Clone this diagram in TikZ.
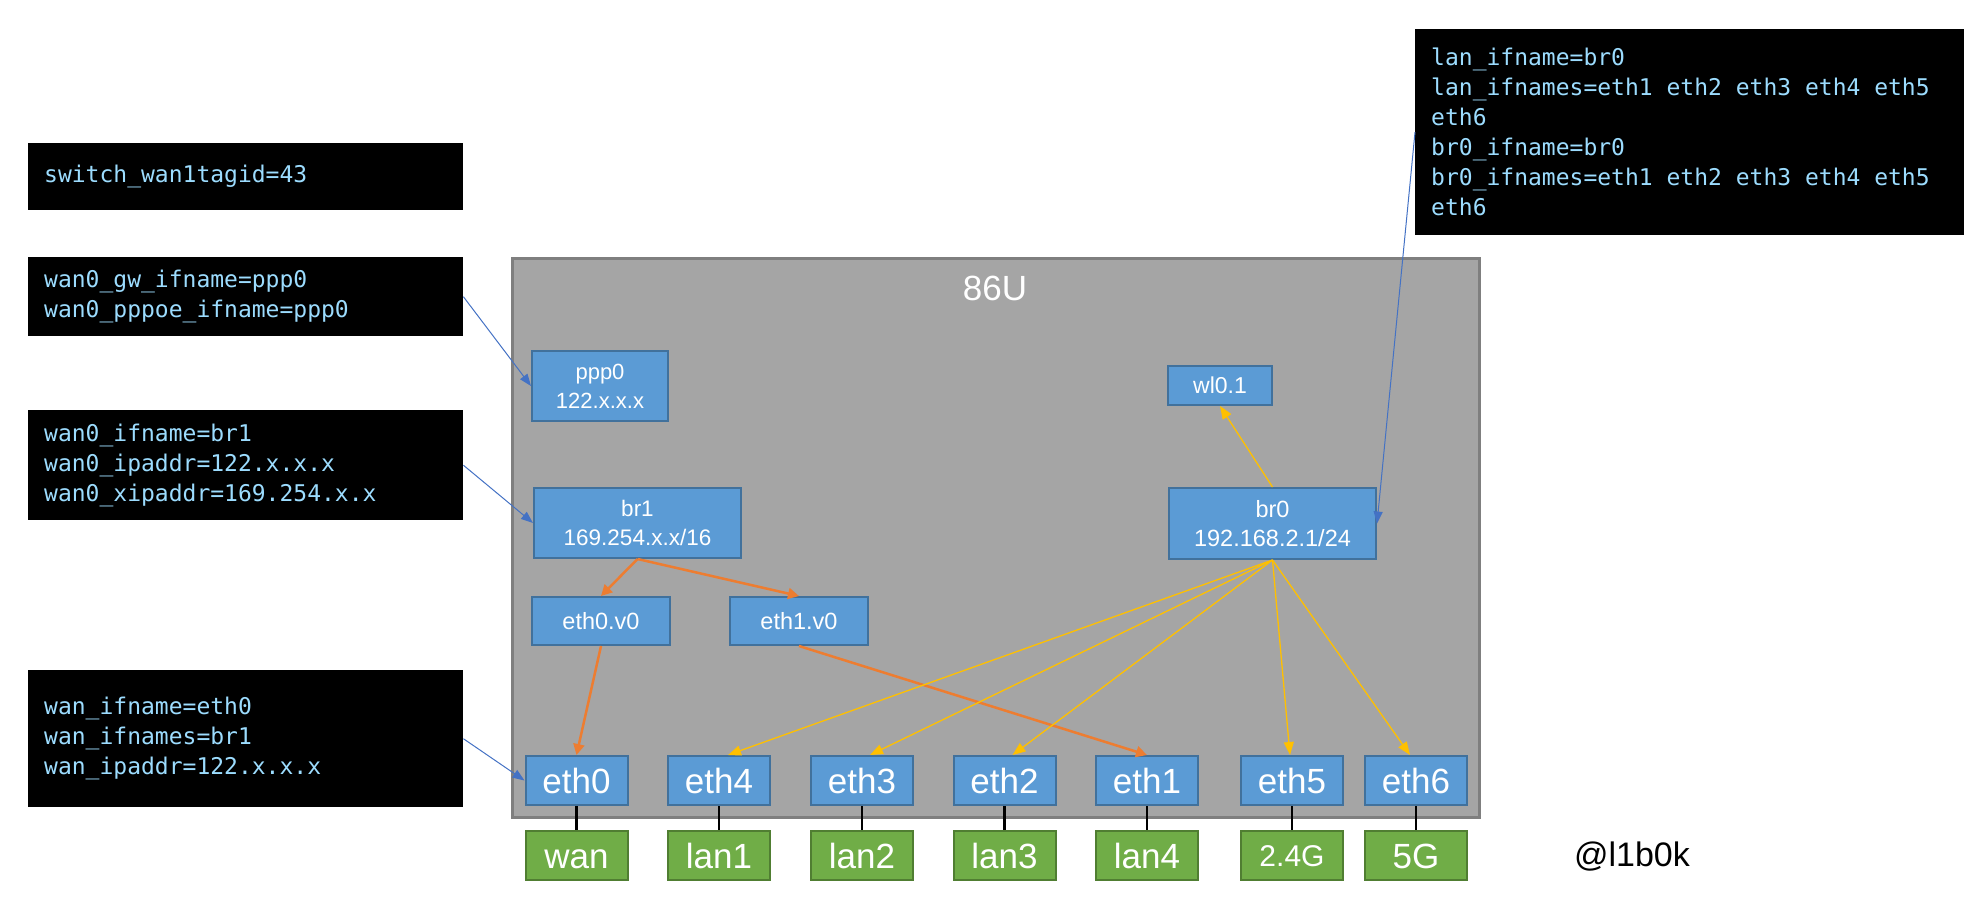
\documentclass[tikz,border=0pt]{standalone}
\usepackage{fontspec}
\setmainfont{Liberation Sans}
\setmonofont[WordSpace={1,0,0}]{DejaVu Sans Mono}
\usetikzlibrary{arrows.meta}
\definecolor{grayfill}{HTML}{A5A5A5}
\definecolor{grayline}{HTML}{7F7F7F}
\definecolor{bluefill}{HTML}{5B9BD5}
\definecolor{blueline}{HTML}{41719C}
\definecolor{greenfill}{HTML}{70AD47}
\definecolor{greenline}{HTML}{507E32}
\definecolor{codetext}{HTML}{9CDCFE}
\definecolor{orangeln}{HTML}{ED7D31}
\definecolor{goldln}{HTML}{FFC000}
\definecolor{linkblue}{HTML}{4472C4}
\newcommand\msp{\hspace*{13.85pt}}
\begin{document}
\begin{tikzpicture}[x=1pt,y=-1pt,
  codebox/.style={fill=black, text=codetext, anchor=north west, inner xsep=16pt, inner ysep=0pt,
    align=left, font=\ttfamily\fontsize{23}{30}\selectfont},
  bluebox/.style={fill=bluefill, draw=blueline, line width=2pt, text=white, align=center,
    inner sep=0pt, font=\fontsize{22.5}{28.5}\selectfont},
  ethbox/.style={bluebox, minimum width=102pt, minimum height=49pt, text height=25.5pt, text depth=0pt,
    font=\fontsize{35}{40}\selectfont},
  greenbox/.style={fill=greenfill, draw=greenline, line width=2pt, text=white, inner sep=0pt,
    minimum width=102pt, minimum height=49pt, text height=25.5pt, text depth=0pt,
    font=\fontsize{35}{40}\selectfont},
  linkarrow/.style={draw=linkblue, line width=1pt, -{Triangle[length=12pt,width=9pt]}},
  orangearrow/.style={draw=orangeln, line width=2.5pt, -{Triangle[length=11pt,width=11pt]}},
  goldarrow/.style={draw=goldln, line width=1.3pt, -{Triangle[length=13pt,width=10pt]}},
  wire/.style={draw=black, line width=2.5pt}]
\useasboundingbox (0,0) rectangle (1976,911);

% code boxes
\node[codebox, text width=403pt, minimum height=67pt] (sw) at (28,143) {switch\_wan1tagid=43};
\node[codebox, text width=403pt, minimum height=79pt] (gw) at (28,257) {wan0\_gw\_ifname=ppp0\\wan0\_pppoe\_ifname=ppp0};
\node[codebox, text width=403pt, minimum height=110pt] (w0) at (28,410) {wan0\_ifname=br1\\wan0\_ipaddr=122.x.x.x\\wan0\_xipaddr=169.254.x.x};
\node[codebox, text width=403pt, minimum height=137pt] (wn) at (28,670) {wan\_ifname=eth0\\wan\_ifnames=br1\\wan\_ipaddr=122.x.x.x};
\node[codebox, text width=517pt, minimum height=206pt] (lan) at (1415,29) {lan\_ifname=br0\\lan\_ifnames=eth1\msp eth2\msp eth3\msp eth4\msp eth5\\eth6\\br0\_ifname=br0\\br0\_ifnames=eth1\msp eth2\msp eth3\msp eth4\msp eth5\\eth6};

% device
\node[fill=grayfill, draw=grayline, line width=2.5pt, minimum width=967pt, minimum height=559pt,
  anchor=north west, inner sep=0pt] (dev) at (511,257) {};
\node[text=white, font=\fontsize{35}{40}\selectfont] (devlabel) at (995,288) {86U};

% interfaces
\node[bluebox, minimum width=136pt, minimum height=70pt, font=\fontsize{22}{29}\selectfont] (ppp0) at (600,386) {ppp0\\122.x.x.x};
\node[bluebox, minimum width=207pt, minimum height=70pt] (br1) at (637.5,523) {br1\\169.254.x.x/16};
\node[bluebox, minimum width=138pt, minimum height=48pt, font=\fontsize{23.5}{28}\selectfont] (e0v) at (601,621) {eth0.v0};
\node[bluebox, minimum width=138pt, minimum height=48pt, font=\fontsize{23.5}{28}\selectfont] (e1v) at (799,621) {eth1.v0};
\node[bluebox, minimum width=104pt, minimum height=39pt, font=\fontsize{23}{28}\selectfont] (wl) at (1220,385.5) {wl0.1};
\node[bluebox, minimum width=207pt, minimum height=71pt, font=\fontsize{23.5}{28.5}\selectfont] (br0) at (1272.5,523.5) {br0\\192.168.2.1/24};

\node[ethbox] (e0) at (576.5,780.5) {eth0};
\node[ethbox] (e4) at (719,780.5) {eth4};
\node[ethbox] (e3) at (862,780.5) {eth3};
\node[ethbox] (e2) at (1004.5,780.5) {eth2};
\node[ethbox] (e1) at (1147,780.5) {eth1};
\node[ethbox] (e5) at (1292,780.5) {eth5};
\node[ethbox] (e6) at (1416,780.5) {eth6};

\node[greenbox] (g0) at (576.5,855.5) {wan};
\node[greenbox] (g4) at (719,855.5) {lan1};
\node[greenbox] (g3) at (862,855.5) {lan2};
\node[greenbox] (g2) at (1004.5,855.5) {lan3};
\node[greenbox] (g1) at (1147,855.5) {lan4};
\node[greenbox, text height=22pt, font=\fontsize{30}{36}\selectfont] (g5) at (1292,855.5) {2.4G};
\node[greenbox] (g6) at (1416,855.5) {5G};

\node[font=\fontsize{34}{40}\selectfont] (sig) at (1632,857) {@l1b0k};

% wires
\foreach \a/\b in {e0/g0,e4/g4,e3/g3,e2/g2,e1/g1,e5/g5,e6/g6}
  \draw[wire] (\a.south) -- (\b.north);

% orange
\draw[orangearrow] (br1.south) -- (e0v.north);
\draw[orangearrow] (br1.south) -- (e1v.north);
\draw[orangearrow] (e0v.south) -- (e0.north);
\draw[orangearrow] (e1v.south) -- (e1.north);

% gold
\draw[goldarrow] (br0.north) -- (wl.south);
\draw[goldarrow] (br0.south) -- ([xshift=9pt]e4.north);
\draw[goldarrow] (br0.south) -- ([xshift=8pt]e3.north);
\draw[goldarrow] (br0.south) -- ([xshift=8pt]e2.north);
\draw[goldarrow] (br0.south) -- ([xshift=-2pt]e5.north);
\draw[goldarrow] (br0.south) -- ([xshift=-6pt]e6.north);

% blue links
\draw[linkarrow] (gw.east) -- (ppp0.west);
\draw[linkarrow] (w0.east) -- (br1.west);
\draw[linkarrow] (wn.east) -- (e0.west);
\draw[linkarrow] (lan.west) -- (br0.east);
\end{tikzpicture}
\end{document}
